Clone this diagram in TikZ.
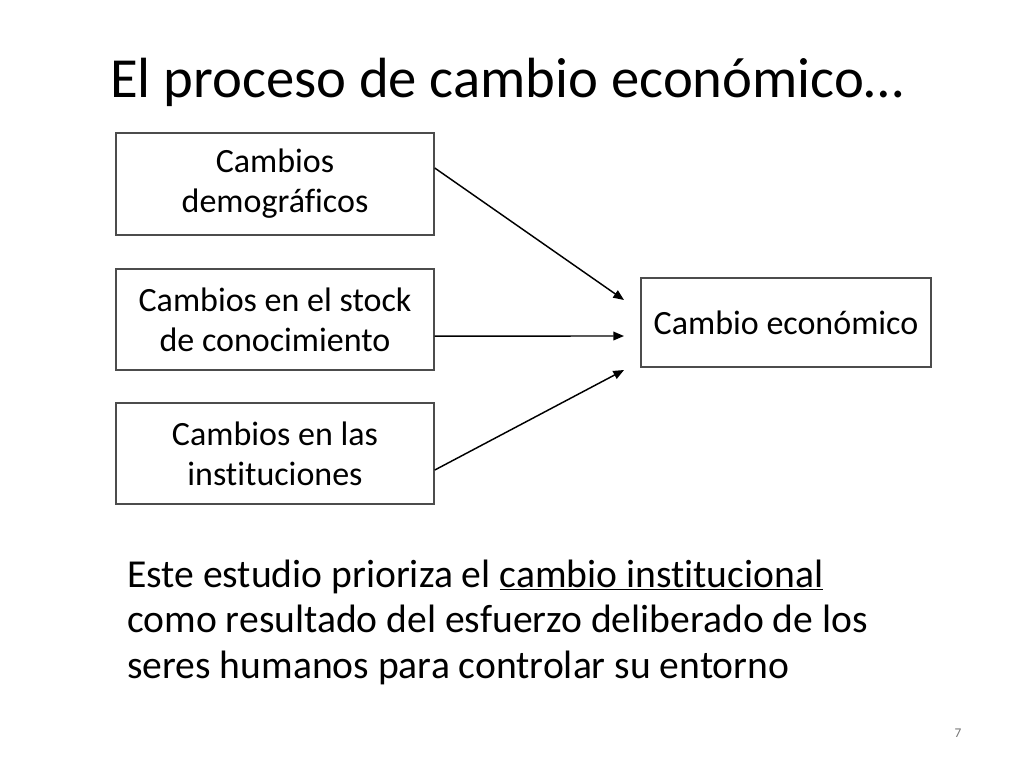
\documentclass[tikz,border=0pt]{standalone}
\usepackage{fontspec}
\setmainfont{Carlito}[Ligatures=NoCommon]
\usetikzlibrary{arrows.meta}
\begin{document}
\begin{tikzpicture}[x=0.75pt,y=-0.75pt,
  box/.style={draw=black!70,line width=1.1pt,inner sep=0pt,align=center,
    font=\fontsize{25.5}{30}\selectfont,text=black},
  conn/.style={line width=1.1pt,-{Triangle[length=8pt,width=6.5pt]}}]
\useasboundingbox[fill=white] (0,0) rectangle (1024,768);
\node[anchor=base west,inner sep=0pt,font=\fontsize{42.5}{50}\selectfont] (title) at (110,97.3) {El proceso de cambio económico…};
\node[box,minimum width=318*0.75pt,minimum height=102*0.75pt] (b1) at (275,184) {Cambios\\demográficos};
\node[box,minimum width=318*0.75pt,minimum height=101*0.75pt] (b2) at (275,319.5) {Cambios en el stock\\de conocimiento};
\node[box,minimum width=318*0.75pt,minimum height=101*0.75pt] (b3) at (275,453.5) {Cambios en las\\instituciones};
\node[box,minimum width=290*0.75pt,minimum height=89*0.75pt] (r) at (786,322.5) {Cambio económico};
\coordinate (e1) at (624,300);
\coordinate (e2) at (624,336);
\coordinate (e3) at (624,370);
\draw[conn] ([yshift=12pt]b1.east) -- (e1);
\draw[conn] ([yshift=-12.4pt]b2.east) -- (e2);
\draw[conn] ([yshift=-12.4pt]b3.east) -- (e3);
\node[anchor=base west,align=left,inner sep=0pt,font=\fontsize{29.7}{34}\selectfont] (body) at (127,678)
 {Este estudio prioriza el \underline{cambio institucional}\\como resultado del esfuerzo deliberado de los\\seres humanos para controlar su entorno};
\node[anchor=base,font=\fontsize{10}{12}\selectfont,text=black!55] (pg) at (958,737) {7};
\end{tikzpicture}
\end{document}
